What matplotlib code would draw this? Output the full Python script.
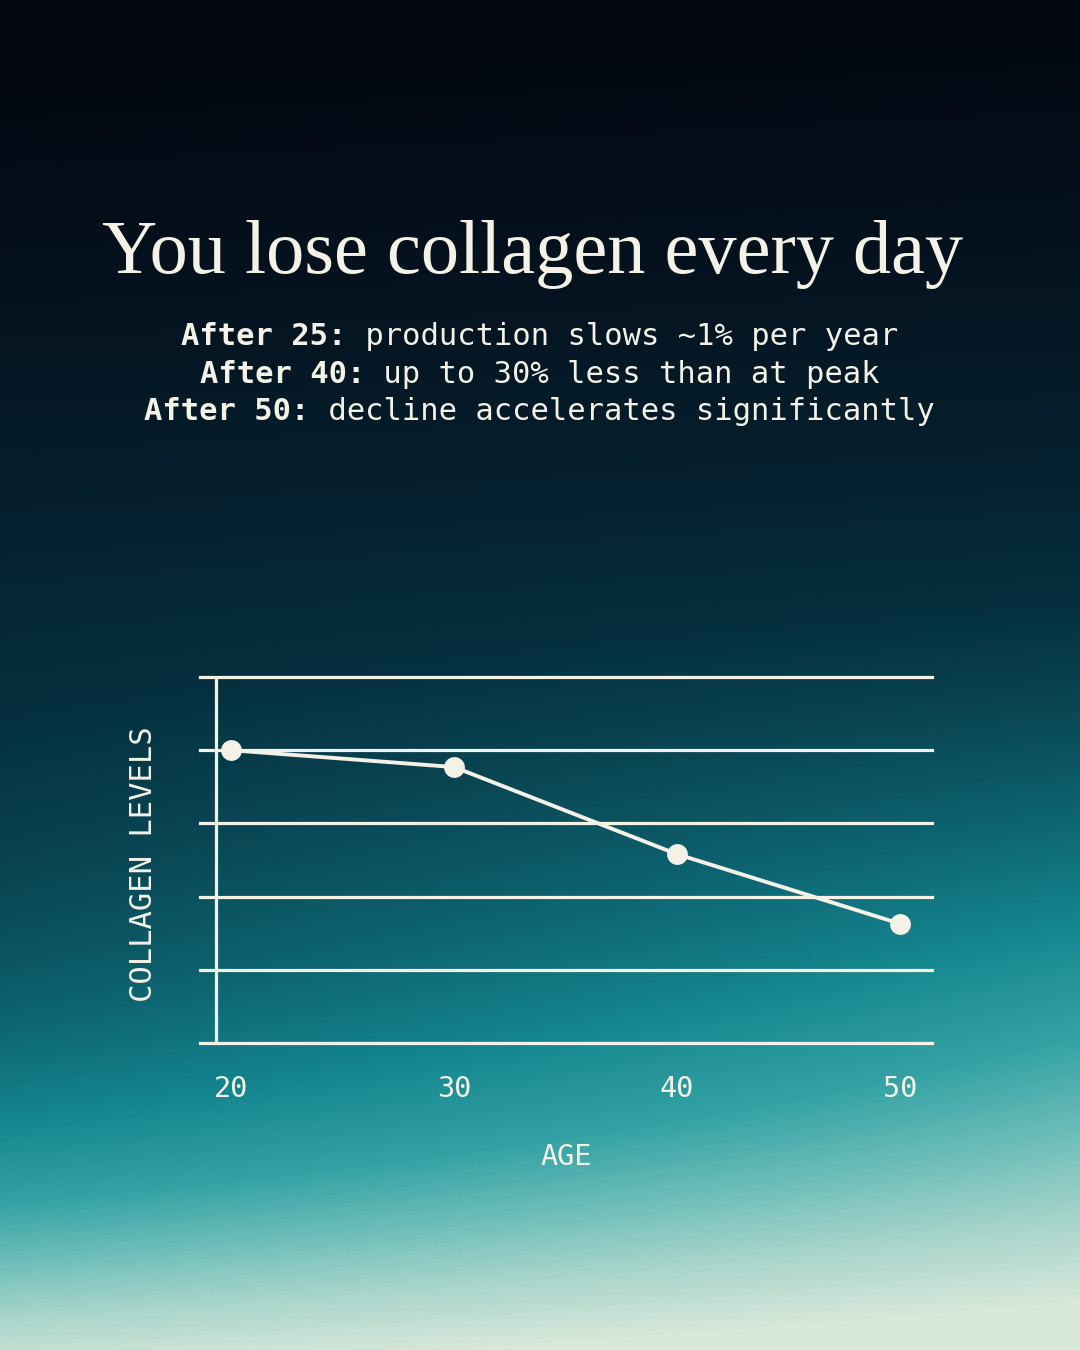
import numpy as np
import matplotlib
matplotlib.use("Agg")
import matplotlib.pyplot as plt
from matplotlib.colors import LinearSegmentedColormap

# ---- data ----
ages = [20, 30, 40, 50]
collagen_levels = [4.0, 3.77, 2.58, 1.63]
grid_levels = [0, 1, 2, 3, 4, 5]
age_tick_labels = ["20", "30", "40", "50"]

title = "You lose collagen every day"
sub_prefixes = ["After 25:", "After 40:", "After 50:"]
sub_rests = [" production slows ~1% per year",
             " up to 30% less than at peak",
             " decline accelerates significantly"]
x_label = "AGE"
y_label = "COLLAGEN LEVELS"

CREAM = "#F4F2E7"
W, H, DPI = 1080, 1350, 100

fig = plt.figure(figsize=(W / DPI, H / DPI), dpi=DPI)

# ---- background gradient ----
bg = fig.add_axes([0, 0, 1, 1], zorder=0)
bg.set_axis_off()
yy, xx = np.mgrid[0:1:400j, 0:1:300j]
tilt = 0.04 + 0.13 * np.exp(-((yy - 0.7) / 0.2) ** 2)
t = np.clip(yy + tilt * (xx - 0.5), 0, 1)
stops = [(0.00, "#03060f"), (0.18, "#05111d"), (0.35, "#061f2d"),
         (0.48, "#05303f"), (0.58, "#0a4856"), (0.68, "#0e6572"),
         (0.77, "#14868e"), (0.85, "#35a3a5"), (0.90, "#6cbdb9"),
         (0.95, "#a9d5cb"), (1.00, "#d8e8da")]
cmap = LinearSegmentedColormap.from_list("bg", stops)
bg.imshow(t, cmap=cmap, vmin=0, vmax=1, aspect="auto",
          extent=[0, 1, 0, 1], origin="upper", interpolation="bicubic")
bg.set_xlim(0, 1)
bg.set_ylim(0, 1)

# ---- title & subtitle ----
fig.text(532 / W, 1 - 273 / H, title, ha="center", va="baseline",
         fontsize=55, color=CREAM, family=["Liberation Serif", "DejaVu Serif"])

fs_sub = 22
cw = 0.6021 * fs_sub * DPI / 72.0
baselines = [345, 383, 420]
for pre, rest, yb in zip(sub_prefixes, sub_rests, baselines):
    n = len(pre) + len(rest)
    x0 = 540 - n * cw / 2
    fig.text(x0 / W, 1 - yb / H, pre, ha="left", va="baseline",
             fontsize=fs_sub, color=CREAM, family="DejaVu Sans Mono",
             fontweight="bold")
    fig.text((x0 + len(pre) * cw) / W, 1 - yb / H, rest, ha="left",
             va="baseline", fontsize=fs_sub, color=CREAM,
             family="DejaVu Sans Mono")

# ---- chart ----
left_px, right_px, top_px, bot_px = 200, 932, 677, 1043
ax = fig.add_axes([left_px / W, 1 - bot_px / H,
                   (right_px - left_px) / W, (bot_px - top_px) / H], zorder=2)
ax.patch.set_alpha(0)
for s in ax.spines.values():
    s.set_visible(False)

ax.set_xlim(18.61, 51.435)
ax.set_ylim(0, 5)

for g in grid_levels:
    ax.axhline(g, color=CREAM, lw=2.3, clip_on=False, zorder=1)
ax.plot([19.327, 19.327], [0, 5], color=CREAM, lw=2.3, clip_on=False,
        zorder=1, solid_capstyle="butt")

ax.plot(ages, collagen_levels, color=CREAM, lw=2.8, marker="o",
        markersize=15, markerfacecolor=CREAM, markeredgewidth=0,
        clip_on=False, zorder=3)

ax.set_xticks(ages)
ax.set_xticklabels(age_tick_labels, family="DejaVu Sans Mono",
                   fontsize=20.5, color=CREAM)
ax.tick_params(axis="x", length=0, pad=23)
ax.set_yticks([])

ax.set_xlabel(x_label, family="DejaVu Sans Mono", fontsize=20.5,
              color=CREAM, va="center")
ax.xaxis.set_label_coords(0.5, (bot_px - 1157) / (bot_px - top_px))
ax.set_ylabel(y_label, family="DejaVu Sans Mono", fontsize=22,
              color=CREAM, va="center")
ax.yaxis.set_label_coords((144 - left_px) / (right_px - left_px),
                          (bot_px - 864) / (bot_px - top_px))

fig.savefig("out.png", dpi=DPI)
